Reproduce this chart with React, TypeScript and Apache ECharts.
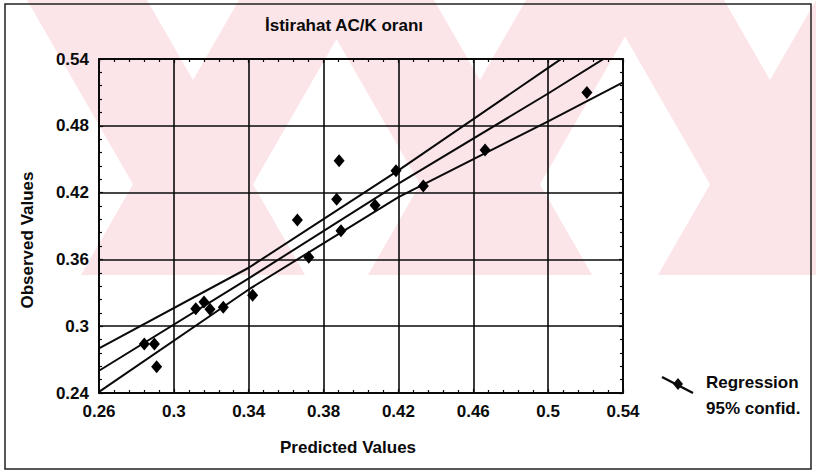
import React, { useEffect, useRef } from "react";
import * as echarts from "echarts";

const titleText = "İstirahat AC/K oranı";
const xName = "Predicted Values";
const yName = "Observed Values";
const legendLabels = ["Regression", "95% confid."];

const observedPoints: [number, number][] = [
  [0.2842, 0.284],
  [0.2896, 0.284],
  [0.2908, 0.2636],
  [0.3117, 0.3157],
  [0.3161, 0.3218],
  [0.3193, 0.3152],
  [0.3264, 0.317],
  [0.3421, 0.3278],
  [0.366, 0.3954],
  [0.3721, 0.3619],
  [0.3883, 0.4487],
  [0.387, 0.414],
  [0.3893, 0.3858],
  [0.4075, 0.4086],
  [0.4187, 0.4397],
  [0.4333, 0.426],
  [0.4663, 0.4583],
  [0.5207, 0.5098],
];

const regressionLine: [number, number][] = [
  [0.26, 0.26],
  [0.34, 0.343],
  [0.42, 0.428],
  [0.5, 0.509],
  [0.54, 0.551],
];
const upperConf: [number, number][] = [
  [0.26, 0.28],
  [0.34, 0.3525],
  [0.42, 0.44],
  [0.5, 0.532],
  [0.54, 0.578],
];
const lowerConf: [number, number][] = [
  [0.26, 0.241],
  [0.34, 0.333],
  [0.42, 0.416],
  [0.5, 0.484],
  [0.54, 0.519],
];

const FONT = "'Liberation Sans', Arial, sans-serif";
const INK = "#0a0a0a";
const PINK = "#fce5e9";
const FS = 17;

// decorative watermark: an X made of two steep arms, cut at y = 275
function xShape(cx: number) {
  const s = 0.575;
  const h = 275;
  const d = s * h;
  return [
    {
      type: "polygon",
      z: -10,
      silent: true,
      shape: { points: [[cx - 166, 0], [cx - 46, 0], [cx - 46 + d, h], [cx - 166 + d, h]] },
      style: { fill: PINK },
    },
    {
      type: "polygon",
      z: -10,
      silent: true,
      shape: { points: [[cx + 46, 0], [cx + 166, 0], [cx + 166 - d, h], [cx + 46 - d, h]] },
      style: { fill: PINK },
    },
  ];
}

export default function App() {
  const ref = useRef<HTMLDivElement>(null);
  useEffect(() => {
    if (!ref.current) return;
    const chart = echarts.init(ref.current, null, { renderer: "svg" });
    const fmt = (v: number) => String(parseFloat(v.toFixed(2)));
    const baseAxis = {
      type: "value" as const,
      axisLine: { show: true, lineStyle: { color: INK, width: 2 } },
      axisTick: { show: true, inside: true, length: 4, lineStyle: { color: INK, width: 1.2 } },
      minorTick: { show: true, splitNumber: 5, length: 3, lineStyle: { color: INK, width: 1.2 } },
    };
    const labelStyle = {
      show: true,
      formatter: fmt,
      color: INK,
      fontSize: FS,
      fontWeight: "bold",
      fontFamily: FONT,
      margin: 10,
    };
    const textStyle = (text: string, align: string) => ({
      text,
      fontSize: FS,
      fontWeight: "bold",
      fontFamily: FONT,
      fill: INK,
      align,
      verticalAlign: "middle",
    });
    const lineSeries = (data: [number, number][]) => ({
      type: "line",
      data,
      showSymbol: false,
      symbol: "none",
      clip: true,
      lineStyle: { color: INK, width: 2 },
      z: 3,
    });
    chart.setOption({
      animation: false,
      backgroundColor: "#fff",
      grid: { left: 99, right: 193, top: 59, bottom: 80, containLabel: false },
      xAxis: [
        {
          ...baseAxis,
          min: 0.26,
          max: 0.54,
          interval: 0.04,
          axisLabel: labelStyle,
          splitLine: { show: true, lineStyle: { color: INK, width: 1.6 } },
        },
        {
          ...baseAxis,
          position: "top",
          min: 0.26,
          max: 0.54,
          interval: 0.04,
          axisLabel: { show: false },
          splitLine: { show: false },
        },
      ],
      yAxis: [
        {
          ...baseAxis,
          min: 0.24,
          max: 0.54,
          interval: 0.06,
          axisLabel: labelStyle,
          splitLine: { show: true, lineStyle: { color: INK, width: 1.6 } },
        },
        {
          ...baseAxis,
          position: "right",
          min: 0.24,
          max: 0.54,
          interval: 0.06,
          axisLabel: { show: false },
          splitLine: { show: false },
        },
      ],
      series: [
        lineSeries(regressionLine),
        lineSeries(upperConf),
        lineSeries(lowerConf),
        {
          type: "scatter",
          data: observedPoints,
          symbol: "diamond",
          symbolSize: [11, 13],
          itemStyle: { color: "#000", opacity: 1 },
          z: 4,
        },
      ],
      graphic: [
        ...xShape(193),
        ...xShape(480),
        ...xShape(770),
        {
          type: "rect",
          silent: true,
          shape: { x: 5, y: 4, width: 806, height: 465 },
          style: { fill: "none", stroke: "#222", lineWidth: 1.5 },
        },
        { type: "text", x: 344, y: 25, style: textStyle(titleText, "center") },
        { type: "text", x: 348, y: 447, style: textStyle(xName, "center") },
        { type: "text", x: 27, y: 240, rotation: Math.PI / 2, style: textStyle(yName, "center") },
        {
          type: "line",
          shape: { x1: 662, y1: 377, x2: 693, y2: 393 },
          style: { stroke: INK, lineWidth: 2.5 },
        },
        {
          type: "polygon",
          shape: { points: [[678, 378], [683, 384], [678, 390], [673, 384]] },
          style: { fill: INK },
        },
        { type: "text", x: 706, y: 382, style: textStyle(legendLabels[0], "left") },
        { type: "text", x: 706, y: 408, style: textStyle(legendLabels[1], "left") },
      ],
    });
    return () => chart.dispose();
  }, []);
  return (
    <div
      ref={ref}
      style={{ position: "fixed", left: 0, top: 0, width: 816, height: 473 }}
    />
  );
}
